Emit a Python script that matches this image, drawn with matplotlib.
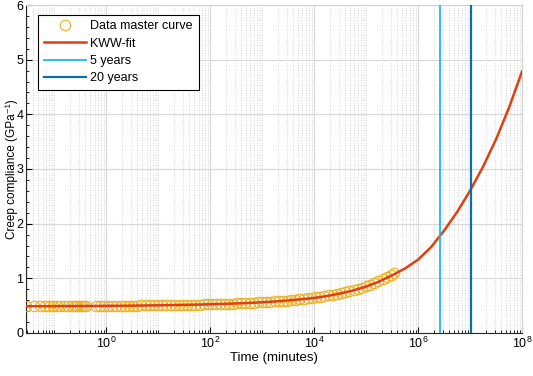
import numpy as np
import matplotlib
matplotlib.use("Agg")
import matplotlib.pyplot as plt
from matplotlib.ticker import LogLocator, MultipleLocator, NullFormatter

plt.rcParams['font.family'] = ['Liberation Sans', 'DejaVu Sans']

## master curve data (log10 of time in minutes, compliance in 1/GPa)
data_logt = [-1.54, -1.38, -1.27, -1.18, -1.10, -1.02, -0.95, -0.88, -0.80, -0.73,
             -0.66, -0.60, -0.55, -0.50, -0.46, -0.42, -0.38, -0.20, -0.12, -0.04,
             0.04, 0.12, 0.20, 0.28, 0.36, 0.44, 0.52, 0.60, 0.68, 0.76,
             0.84, 0.92, 1.00, 1.08, 1.16, 1.24, 1.32, 1.40, 1.48, 1.56,
             1.64, 1.72, 1.80, 1.88, 1.96, 2.04, 2.12, 2.20, 2.28, 2.36,
             2.44, 2.52, 2.60, 2.68, 2.76, 2.84, 2.92, 3.00, 3.08, 3.16,
             3.24, 3.32, 3.40, 3.48, 3.56, 3.64, 3.72, 3.80, 3.88, 3.96,
             4.04, 4.12, 4.20, 4.28, 4.36, 4.44, 4.52, 4.60, 4.68, 4.76,
             4.84, 4.92, 5.00, 5.08, 5.16, 5.24, 5.32, 5.40, 5.48, 5.54]
data_J = [0.490, 0.488, 0.492, 0.490, 0.491, 0.489, 0.492, 0.491, 0.493, 0.490,
          0.492, 0.494, 0.491, 0.493, 0.495, 0.492, 0.494, 0.494, 0.496, 0.495,
          0.497, 0.496, 0.498, 0.499, 0.500, 0.500, 0.501, 0.502, 0.503, 0.503,
          0.505, 0.506, 0.506, 0.508, 0.509, 0.510, 0.511, 0.513, 0.514, 0.516,
          0.517, 0.519, 0.520, 0.522, 0.524, 0.526, 0.529, 0.531, 0.533, 0.536,
          0.538, 0.541, 0.544, 0.547, 0.551, 0.555, 0.558, 0.562, 0.567, 0.572,
          0.577, 0.582, 0.588, 0.594, 0.600, 0.607, 0.614, 0.622, 0.631, 0.640,
          0.650, 0.661, 0.673, 0.686, 0.699, 0.714, 0.730, 0.747, 0.766, 0.786,
          0.808, 0.832, 0.858, 0.886, 0.915, 0.946, 0.980, 1.017, 1.058, 1.090]

## KWW fit
fit_logt = [-1.54, -1.25, -1.0, -0.75, -0.5, -0.25, 0.0, 0.25, 0.5, 0.75,
            1.0, 1.25, 1.5, 1.75, 2.0, 2.25, 2.5, 2.75, 3.0, 3.25,
            3.5, 3.75, 4.0, 4.25, 4.5, 4.75, 5.0, 5.25, 5.5, 5.75,
            6.0, 6.25, 6.5, 6.75, 7.0, 7.25, 7.5, 7.75, 8.0]
fit_J = [0.490, 0.490, 0.491, 0.492, 0.493, 0.494, 0.496, 0.498, 0.500, 0.503,
         0.506, 0.510, 0.514, 0.519, 0.525, 0.532, 0.540, 0.550, 0.562, 0.577,
         0.595, 0.617, 0.640, 0.676, 0.722, 0.777, 0.848, 0.940, 1.055, 1.180,
         1.340, 1.570, 1.870, 2.210, 2.600, 3.040, 3.540, 4.120, 4.780]

## reference times (minutes)
t_5y = 5 * 365 * 24 * 60
t_20y = 20 * 365 * 24 * 60

fig = plt.figure(figsize=(5.33, 3.76), dpi=100)
ax = fig.add_axes([0.0488, 0.1144, 0.9305, 0.8723])

ax.plot(10 ** np.array(data_logt), data_J, 'o', mfc='none', mec='#EDB120',
        ms=7.5, mew=0.8, label='Data master curve', zorder=3)
ax.plot(10 ** np.array(fit_logt), fit_J, color='#E0400F', lw=1.8,
        label='KWW-fit', zorder=4)
ax.axvline(t_5y, color='#1DB9E6', lw=1.3, label='5 years', zorder=5)
ax.axvline(t_20y, color='#0A6FA8', lw=1.6, label='20 years', zorder=5)

ax.set_xscale('log')
ax.set_xlim(10 ** -1.54, 1e8)
ax.set_ylim(0, 6)
ax.set_xticks([1e0, 1e2, 1e4, 1e6, 1e8])
ax.xaxis.set_minor_locator(LogLocator(base=10, subs=np.arange(1, 10), numticks=40))
ax.xaxis.set_minor_formatter(NullFormatter())
ax.yaxis.set_major_locator(MultipleLocator(1))
ax.yaxis.set_minor_locator(MultipleLocator(0.2))

ax.grid(which='major', color='#d9d9d9', lw=0.8)
ax.grid(which='minor', axis='x', color='#c8c8c8', lw=0.6, ls=(0, (1, 2)))
ax.set_axisbelow(True)

ax.tick_params(which='both', direction='in', top=False, right=False, labelsize=9)
ax.tick_params(which='major', length=4, width=0.8, pad=2)
ax.tick_params(which='minor', length=2, width=0.6)
for s in ['top', 'right']:
    ax.spines[s].set_color('#d0d0d0')
for s in ['left', 'bottom']:
    ax.spines[s].set_color('#262626')
    ax.spines[s].set_linewidth(0.8)

ax.set_xlabel('Time (minutes)', fontsize=9.5, labelpad=1)
ax.set_ylabel('Creep compliance (GPa\u207b\u00b9)', fontsize=8.5)
ax.yaxis.set_label_coords(-0.017, 0.5)

leg = ax.legend(loc='upper left', bbox_to_anchor=(0.024, 0.97), fontsize=9,
                handlelength=3.4, handletextpad=0.35, fancybox=False,
                framealpha=1, edgecolor='black', borderpad=0.45,
                labelspacing=0.42, borderaxespad=0)
leg.get_frame().set_linewidth(0.8)

fig.savefig('out.png', dpi=100)
